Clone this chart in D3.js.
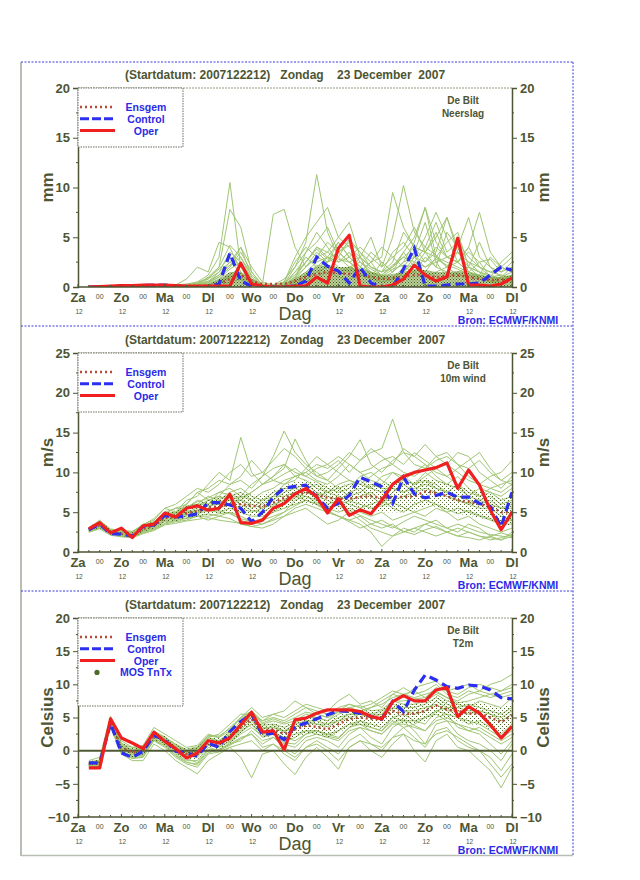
<!DOCTYPE html>
<html><head><meta charset="utf-8">
<script src="https://cdn.jsdelivr.net/npm/d3@7"></script>
<style>body{margin:0;background:#fff}svg{font-family:"Liberation Sans",Arial,sans-serif}</style>
</head><body>
<svg id="c" width="640" height="880"></svg>
<script>
// ---------- DATA ----------
const dayLabels = ["Za","Zo","Ma","Dl","Wo","Do","Vr","Za","Zo","Ma","Dl"];
const hourLabel = "12", midLabel = "00";
const titleText = "(Startdatum: 2007122212)   Zondag    23 December  2007";
const station = "De Bilt";
const source = "Bron: ECMWF/KNMI";
const stepHours = 6; // values below are steps 1..40 (6-hourly, +6h .. +240h)

// Neerslag (mm)
const precipOper = [0,0.05,0.1,0.15,0.15,0.2,0.2,0.2,0.15,0.1,0.1,0.1,0.1,0.1,2.4,0.3,0.1,0,0,0.1,0.1,1.0,0.4,3.9,5.2,0.1,0,0,0.2,0.8,2.2,1.2,0.6,1.0,4.9,0.2,0.2,0.1,0.3,0.9];
const precipControl = [0,0.05,0.05,0.1,0.1,0.15,0.2,0.2,0.1,0.05,0.05,0.05,0.3,3.4,0.6,0.1,0,0,0,0.1,0.6,3.0,2.1,1.6,0.4,2.0,0.4,0,0,1.8,3.9,0.1,0.1,0.2,0.3,0.3,0.4,1.2,2.0,1.7];
const precipMean = [0,0,0.05,0.05,0.05,0.1,0.1,0.1,0.1,0.1,0.1,0.15,0.3,0.8,1.2,0.6,0.3,0.3,0.3,0.6,1.0,1.3,1.5,1.4,1.3,1.2,1.0,0.8,0.9,1.0,1.2,1.2,1.0,1.1,1.2,1.0,0.8,0.7,0.7,0.8];
const precipBandLo = [0,0,0,0,0,0,0,0,0,0,0,0,0,0,0,0,0,0,0,0,0,0,0,0,0,0,0,0,0,0,0,0,0,0,0,0,0,0,0,0];
const precipBandHi = [0.05,0.05,0.1,0.1,0.1,0.1,0.1,0.1,0.1,0.1,0.1,0.3,0.8,1.5,1.5,0.8,0.2,0.1,0.2,0.8,1.5,2.0,2.2,2.0,2.0,1.8,1.5,1.2,1.3,1.5,1.8,1.7,1.5,1.5,1.6,1.4,1.2,1.0,1.0,1.2];
const precipMembers = [
 [0,0,0.1,0.1,0.1,0.1,0.1,0.1,0.1,0.2,0.5,1.2,3.0,10.5,2.0,0.3,0.1,0.1,0.2,1.0,2.5,4.0,3.0,2.0,1.5,3.0,1.0,0.5,0.8,2.0,3.5,6.5,2.5,1.0,1.5,2.0,1.0,0.5,1.0,2.0],
 [0,0,0,0.1,0.1,0.1,0.1,0.1,0.1,0.1,0.3,0.8,2.0,7.8,6.0,1.5,0.2,0.1,0.3,2.0,3.5,5.5,4.0,2.5,3.5,2.0,1.5,0.8,1.5,2.5,4.5,8.0,3.0,2.0,3.5,2.5,1.5,0.5,0.3,1.0],
 [0,0,0.1,0.1,0.1,0.1,0.2,0.1,0.2,0.8,2.0,1.5,4.5,4.0,1.5,0.5,0.1,0,0.1,0.8,3.5,4.5,6.0,3.5,2.5,1.5,2.5,1.0,0.5,1.5,3.0,5.0,7.5,5.0,2.5,4.0,2.0,1.0,0.5,0.8],
 [0,0,0,0,0.1,0.1,0.1,0.1,0.1,0.1,0.2,0.5,1.5,3.5,2.5,0.8,0.3,7.3,7.8,4.0,2.0,3.5,2.5,4.5,3.0,2.0,1.0,2.5,1.5,3.5,2.0,1.5,3.0,4.5,5.5,2.0,1.5,1.0,2.5,3.5],
 [0,0,0,0.1,0.1,0.1,0.1,0.1,0.2,0.3,0.5,0.8,1.5,2.5,4.0,1.0,0.2,0.2,0.8,2.0,4.5,11.3,5.5,3.0,2.0,1.5,2.5,4.0,3.0,2.0,1.5,3.0,2.0,1.5,1.0,2.0,1.5,1.2,0.8,0.5],
 [0,0,0,0,0.1,0.1,0.1,0.1,0.1,0.1,0.3,1.0,2.0,4.2,3.0,0.8,0.1,0.2,0.5,3.0,5.0,6.5,8.0,5.0,4.0,3.0,2.0,1.5,2.5,5.5,4.0,3.5,5.5,3.0,2.5,1.5,1.2,3.0,2.0,1.5],
 [0,0,0,0,0,0.1,0.1,0.1,0.1,0.1,0.2,0.5,1.0,2.0,3.5,1.5,0.2,0.1,0.3,1.5,2.5,4.0,3.5,5.0,6.5,3.0,5.0,2.0,3.0,4.0,6.0,3.5,2.0,5.5,4.0,1.5,2.5,1.0,0.8,1.2],
 [0,0,0,0,0,0,0.1,0.1,0.1,0.1,0.3,0.6,1.2,2.5,1.5,0.5,0.1,0.1,0.3,1.0,2.0,3.0,4.5,3.5,4.5,3.5,2.5,3.0,9.5,6.0,4.0,2.5,3.5,7.0,3.5,2.0,4.5,2.0,1.0,0.5],
 [0,0,0,0,0,0,0,0.1,0.1,0.1,0.2,0.3,0.8,1.8,2.5,0.8,0.2,0.1,0.2,0.8,1.5,2.5,3.0,2.5,3.0,4.0,3.0,2.0,5.0,10.2,5.5,4.0,6.5,3.5,4.5,3.0,2.0,1.5,2.0,1.5],
 [0,0,0,0,0,0.1,0.1,0.1,0.1,0.1,0.1,0.2,0.5,1.0,1.2,0.5,0.1,0,0.1,0.5,1.0,2.0,2.5,3.5,2.5,3.0,2.0,1.5,2.0,3.5,5.0,8.0,4.5,3.0,2.5,4.0,7.5,3.5,2.0,3.0],
 [0,0,0,0,0,0,0.1,0.1,0.1,0.1,0.1,0.2,0.4,0.8,1.0,0.3,0.1,0,0.1,0.3,0.8,1.5,2.0,1.5,2.0,2.5,1.5,1.2,2.0,3.0,4.0,3.5,5.0,7.0,4.0,7.0,3.0,2.0,1.5,2.5],
 [0,0,0,0,0,0,0,0,0,0,0.1,0.1,0.2,0.5,0.8,0.2,0,0,0,0.2,0.5,1.0,1.5,1.0,0.8,1.2,0.8,0.5,0.8,1.2,1.5,1.0,1.5,2.0,1.2,1.0,0.8,0.5,0.8,1.0],
 [0,0,0,0,0,0,0.1,0.1,0.1,0.1,0.2,0.4,1.0,2.0,4.0,2.0,0.5,0.2,0.3,1.5,3.0,2.0,3.0,4.5,3.0,2.0,3.5,2.5,1.5,2.5,3.0,2.0,2.5,3.0,2.5,3.5,2.5,2.8,1.5,2.0],
 [0,0,0,0,0,0,0,0,0.1,0.1,0.1,0.2,0.5,1.0,1.5,0.5,0.1,0.1,0.3,0.8,2.0,3.0,3.5,2.8,2.5,1.8,1.5,1.0,1.8,2.2,2.0,3.5,3.0,2.5,2.0,1.5,1.2,1.0,1.2,0.8],
 [0,0,0,0,0,0,0,0.1,0.1,0.2,0.4,0.9,1.8,3.0,2.2,0.6,0.1,0.1,0.4,1.2,2.5,3.8,2.8,3.5,4.2,2.5,1.8,1.2,2.2,3.0,2.5,4.0,3.2,2.0,2.5,1.5,1.0,0.8,1.0,1.5],
 [0,0,0,0,0,0,0,0,0,0.1,0.1,0.2,0.6,1.2,2.0,0.8,0.2,0.1,0.2,0.6,1.2,2.2,2.0,1.5,1.8,1.2,1.0,0.8,1.0,1.5,2.5,2.0,2.8,2.2,1.8,1.2,1.0,0.6,0.5,0.8],
 [0,0,0,0,0,0,0.1,0.1,0.1,0.2,0.3,0.5,1.2,2.2,3.0,1.2,0.3,0.2,0.5,2.5,4.0,3.0,2.5,3.0,4.8,3.5,2.0,1.5,3.5,4.5,3.0,2.5,4.0,3.0,3.5,2.5,2.0,1.5,1.2,1.0]
];

// 10m wind (m/s)
const windOper = [2.9,3.7,2.4,3.0,1.8,3.3,3.5,4.9,4.4,5.5,5.8,5.25,5.5,7.25,3.7,3.6,4.0,5.5,6.1,7.3,8.0,6.9,4.9,6.7,4.6,5.3,4.8,6.5,8.5,9.5,10.0,10.3,10.6,11.2,8.0,10.3,8.4,5.25,2.8,5.0];
const windControl = [2.8,3.5,2.3,2.25,2.0,3.2,3.4,4.6,4.4,4.5,4.8,6.2,6.2,5.9,5.5,3.8,5.0,6.9,8.0,8.25,8.4,6.9,5.5,6.1,7.1,9.4,8.8,8.2,6.1,9.4,7.3,6.8,7.1,7.5,6.9,6.9,6.1,5.7,3.2,7.5];
const windMean = [2.8,3.4,2.5,2.3,2.1,2.9,3.3,4.3,4.4,4.9,5.1,5.6,5.7,6.0,6.0,5.8,5.7,6.2,6.8,7.3,7.5,7.2,6.8,6.7,6.7,6.9,7.0,6.8,6.9,6.9,7.0,7.6,7.4,7.0,6.5,6.3,6.0,5.7,5.0,5.0];
const windBandLo = [2.5,3.0,2.2,2.0,1.8,2.5,2.9,3.7,3.8,4.2,4.3,4.7,4.8,5.0,4.8,4.6,4.5,5.0,5.5,6.0,6.2,5.8,5.4,5.2,5.1,5.2,5.3,5.0,5.0,5.0,5.2,5.8,5.7,5.3,4.8,4.6,4.3,4.0,3.4,3.3];
const windBandHi = [3.2,3.9,2.9,2.7,2.5,3.4,3.9,5.0,5.2,5.8,6.1,6.6,6.9,7.3,7.5,7.2,7.2,7.7,8.3,8.8,9.0,8.7,8.4,8.4,8.5,8.8,8.7,8.6,8.9,8.8,8.9,9.3,9.0,8.6,8.2,8.0,7.6,7.3,6.7,7.0];
const windMembers = [
 [3.0,4.0,2.8,2.5,2.5,3.5,4.0,5.5,5.0,6.5,7.0,8.5,10.0,9.0,14.4,10.0,8.5,9.5,11.0,9.5,10.0,9.0,8.5,9.5,11.0,10.0,9.0,8.5,10.0,9.5,8.5,9.0,8.0,7.5,8.5,7.0,6.5,7.0,6.0,6.5],
 [2.9,3.6,2.7,2.6,2.3,3.2,3.8,4.8,5.5,5.5,6.5,6.0,7.5,8.0,7.0,8.5,9.5,12.0,15.2,12.5,11.0,10.0,9.0,8.0,8.5,9.0,8.0,7.5,8.5,9.0,10.0,11.0,9.5,8.5,8.0,7.0,8.0,7.5,6.5,7.0],
 [2.7,3.3,2.4,2.2,2.0,2.8,3.5,4.5,4.2,5.0,5.5,6.5,6.0,7.0,6.5,7.5,8.5,9.5,10.5,14.2,11.5,9.5,9.0,10.5,12.0,14.1,11.0,10.0,11.5,12.5,11.0,10.5,12.0,11.0,10.0,9.0,8.5,9.5,10.0,11.5],
 [2.8,3.5,2.6,2.4,2.2,3.0,3.6,4.5,4.8,5.5,5.8,6.5,7.0,6.5,7.0,6.5,7.5,8.0,9.0,9.5,10.0,11.0,10.5,11.5,10.0,11.5,12.5,13.0,16.7,12.5,12.0,13.5,12.0,12.5,11.0,10.5,11.5,10.0,9.0,8.5],
 [2.6,3.0,2.2,2.0,1.8,2.4,2.8,3.5,3.8,4.0,4.5,4.8,4.5,5.0,4.5,3.8,3.5,4.0,4.5,5.5,6.0,5.5,5.0,4.5,4.0,3.5,2.5,0.7,2.0,3.0,2.5,3.5,4.0,3.0,2.5,3.5,3.0,2.0,1.5,2.5],
 [2.6,3.1,2.3,2.1,1.9,2.5,2.9,3.6,4.0,4.2,4.5,4.0,4.5,4.2,3.5,3.2,3.0,3.5,4.5,5.0,5.5,4.5,3.5,4.0,5.0,4.0,3.0,2.5,2.0,2.5,3.0,2.5,2.0,2.5,3.0,2.5,2.0,1.8,1.5,2.0],
 [2.9,3.7,2.8,2.6,2.5,3.3,3.8,5.0,5.5,6.0,7.5,6.5,7.0,8.5,9.0,8.0,9.5,10.5,11.0,10.0,9.5,10.5,11.0,12.0,11.0,10.0,10.5,11.5,12.0,11.0,12.5,11.5,10.5,11.0,12.5,12.0,10.0,9.0,8.0,9.5],
 [2.8,3.4,2.5,2.3,2.1,2.9,3.3,4.3,4.6,5.2,5.0,5.5,6.5,6.0,5.5,5.0,5.5,6.5,7.5,8.0,8.5,7.5,7.0,6.5,7.5,8.0,7.0,6.0,7.5,8.5,7.5,9.0,8.5,7.5,6.5,6.0,5.5,5.5,4.5,4.0],
 [2.7,3.2,2.4,2.2,2.0,2.7,3.1,4.0,4.1,4.5,4.8,5.2,5.0,5.5,5.0,4.5,4.5,5.0,5.5,6.0,6.5,6.0,5.5,5.0,5.5,5.0,4.5,5.0,4.0,4.5,5.0,4.5,5.5,5.0,4.0,4.5,3.5,3.0,2.5,3.0],
 [3.0,3.8,2.6,2.4,2.3,3.1,3.6,4.6,5.0,5.8,6.0,7.0,6.5,7.5,8.0,7.0,6.5,7.0,8.5,9.5,9.0,8.0,7.5,8.5,9.0,8.5,8.0,9.5,10.0,9.0,8.5,10.0,9.0,8.5,9.5,8.0,7.0,7.5,7.0,8.0],
 [2.5,3.0,2.3,2.0,1.9,2.6,3.0,3.8,3.9,4.3,4.5,4.5,4.8,5.0,4.0,3.5,4.0,4.5,5.0,6.5,7.0,6.5,6.0,6.5,6.0,5.5,6.0,6.5,5.5,5.0,6.0,6.5,6.0,5.0,5.5,5.0,4.5,4.0,3.5,3.5],
 [2.9,3.5,2.7,2.5,2.4,3.0,3.5,4.5,4.8,5.5,6.0,6.0,6.8,7.0,7.5,6.5,6.0,7.0,7.0,7.5,8.0,8.5,7.5,7.0,6.5,7.0,7.5,6.5,6.5,7.0,7.5,8.0,7.5,7.0,6.5,6.0,6.5,6.0,5.5,5.5],
 [2.7,3.4,2.5,2.2,2.0,2.8,3.3,4.2,4.5,4.7,5.0,5.5,5.5,6.0,6.5,6.0,5.5,6.0,6.5,7.0,6.5,6.0,5.0,4.5,4.0,4.5,3.5,3.0,3.5,2.5,3.0,3.5,3.0,2.5,2.0,2.5,2.0,1.5,1.8,2.2],
 [2.8,3.6,2.6,2.3,2.2,3.0,3.4,4.4,4.3,5.0,5.2,5.8,6.0,6.5,6.5,5.5,6.5,7.5,8.0,8.0,7.5,7.0,7.5,8.0,7.0,7.5,8.5,8.0,8.0,7.5,8.0,8.5,8.0,7.5,7.0,6.5,6.0,6.5,5.5,6.0],
 [2.8,3.5,2.4,2.2,2.1,3.0,3.5,4.8,5.0,6.0,7.5,8.0,9.0,8.5,9.5,11.5,10.0,9.0,8.5,9.0,10.5,12.0,11.0,10.0,9.0,8.5,9.5,10.5,11.0,13.0,12.0,11.0,10.0,9.5,10.5,11.5,12.5,10.5,9.0,10.0],
 [2.6,3.2,2.3,2.1,1.9,2.6,3.0,3.9,4.2,4.6,4.9,5.4,5.2,4.8,4.2,3.8,4.2,5.0,6.0,6.8,7.5,7.0,6.5,5.8,5.2,4.6,4.0,3.5,3.0,3.8,4.5,4.0,3.5,3.0,3.5,3.0,2.5,2.2,2.0,1.8],
 [3.1,3.9,2.9,2.7,2.6,3.4,4.2,5.5,6.0,7.0,8.0,7.5,8.5,10.0,11.0,9.5,10.0,11.5,13.0,12.0,10.5,9.5,10.0,11.0,12.5,11.5,13.0,12.0,11.0,10.0,9.5,10.5,11.5,12.0,11.0,9.5,8.5,8.0,7.5,8.5],
 [2.7,3.3,2.5,2.3,2.0,2.8,3.2,4.1,4.3,4.8,5.3,5.8,6.2,6.8,6.0,5.2,5.0,5.8,6.6,7.2,7.0,6.2,5.6,6.0,6.4,6.0,5.5,5.8,6.2,5.6,5.0,5.5,6.0,5.4,4.8,5.2,4.6,4.2,3.6,4.0],
 [2.9,3.6,2.6,2.4,2.2,3.1,3.7,4.7,4.9,5.6,6.3,6.8,7.5,7.2,6.8,7.5,8.5,9.0,9.8,10.5,9.5,8.8,8.0,7.5,8.0,9.5,10.0,9.0,8.0,7.5,8.5,9.5,10.5,9.5,8.5,7.5,7.0,8.0,8.5,9.0],
 [2.5,2.9,2.1,1.9,1.8,2.3,2.7,3.4,3.6,3.9,4.1,4.3,4.0,3.8,3.6,3.2,3.5,4.2,5.0,5.8,6.5,6.0,5.2,4.5,3.8,3.0,3.5,4.0,3.2,2.6,2.2,2.8,3.2,2.5,2.0,1.8,1.5,2.0,2.4,2.0]
];

// T2m (Celsius)
const tempOper = [-2.6,-2.6,4.8,1.9,1.15,0.3,2.8,1.4,0.3,-1.1,-0.35,1.5,1.15,1.9,3.9,5.8,2.8,3.0,0.15,4.65,4.9,5.65,6.15,6.15,6.15,5.9,5.15,4.8,7.4,8.3,7.5,7.5,9.15,9.5,5.15,6.65,5.65,3.9,1.9,3.65];
const tempControl = [-1.85,-1.85,4.15,-0.35,-1.0,-0.1,2.3,1.65,-0.1,-0.35,-0.85,1.15,0.5,2.9,4.4,5.5,2.4,2.65,1.65,3.65,4.15,4.8,5.4,6.0,5.9,5.65,5.15,4.8,7.4,5.9,9.15,11.4,10.65,9.65,9.4,9.9,9.75,9.15,8.0,7.8];
const tempMean = [-2.0,-1.8,4.0,0.5,-0.3,0.0,2.3,1.5,0.2,-0.5,-0.4,1.3,1.0,2.0,3.5,4.8,3.0,3.2,2.5,3.2,3.8,3.6,3.2,4.0,4.8,5.0,4.8,4.7,6.0,5.5,5.6,6.0,6.8,6.2,6.0,5.6,5.6,5.0,4.3,5.3];
const tempBandLo = [-2.4,-2.2,3.5,-0.2,-1.0,-0.7,1.6,0.8,-0.6,-1.3,-1.4,0.5,0.2,1.1,2.5,3.8,2.0,2.2,1.3,1.9,2.6,2.4,2.0,2.7,3.6,3.8,3.5,3.3,4.6,4.0,4.1,4.5,5.3,4.8,4.5,4.0,3.9,3.2,2.3,3.5];
const tempBandHi = [-1.6,-1.3,4.5,1.2,0.5,0.7,3.0,2.2,1.0,0.3,0.5,2.0,1.9,2.9,4.4,5.6,4.0,4.3,3.7,4.4,5.0,4.8,4.5,5.3,6.0,6.1,6.1,6.2,7.2,7.0,7.1,7.5,8.2,7.6,7.4,7.2,7.3,6.8,6.4,7.1];
const tempMembers = [
 [-1.5,-1.0,5.2,1.5,0.5,0.8,3.5,2.5,1.5,0.5,0.8,2.5,2.0,3.0,5.0,6.5,5.0,5.5,5.0,6.0,7.0,6.5,6.0,7.5,8.5,7.0,7.5,6.5,8.5,8.0,9.5,10.0,10.5,9.0,9.5,10.0,9.0,10.0,10.5,11.5],
 [-2.0,-1.5,4.5,0.8,0.0,0.3,2.8,2.0,1.0,0.0,0.3,2.0,2.5,4.0,5.5,5.5,4.5,5.5,6.0,7.5,6.5,5.5,5.0,6.0,6.5,6.0,6.5,7.5,8.5,9.5,8.5,9.0,10.0,8.5,8.0,9.0,8.5,8.0,8.5,9.0],
 [-2.5,-2.3,3.5,-0.5,-1.5,-1.5,1.0,0.0,-1.5,-2.5,-3.5,-1.5,-0.5,0.5,-1.0,-4.1,-0.5,0.0,-2.0,-3.6,-1.0,0.5,-1.0,-2.8,0.5,1.5,0.0,-1.0,1.0,2.5,0.0,-1.7,1.5,2.5,0.5,0.0,-1.5,-3.0,-5.6,-2.5],
 [-2.2,-2.0,3.8,0.0,-1.0,-0.5,1.8,1.0,-0.5,-1.5,-1.5,0.5,0.0,1.0,2.0,2.5,1.0,2.0,0.5,-0.5,1.5,2.0,1.5,0.5,2.5,3.5,2.0,1.0,3.5,4.5,3.0,1.0,4.0,4.5,2.5,1.5,1.0,0.0,-1.5,1.0],
 [-1.8,-1.5,4.2,1.0,0.5,0.5,3.0,2.0,0.8,0.0,0.5,2.0,1.5,2.5,4.5,6.0,4.0,4.5,4.0,4.5,5.5,5.0,4.5,6.0,7.0,6.5,5.5,5.5,7.5,7.0,7.0,7.5,8.5,7.5,7.0,6.5,7.5,7.0,6.5,8.0],
 [-2.1,-1.9,3.9,0.3,-0.6,-0.3,2.2,1.2,0.0,-0.8,-1.0,0.8,0.5,1.5,3.0,4.0,2.0,2.5,1.5,2.0,3.0,3.0,2.5,3.0,4.0,4.5,4.0,3.5,5.0,4.5,4.5,5.0,6.0,5.5,5.0,4.0,4.5,3.5,2.5,4.0],
 [-1.9,-1.7,4.1,0.6,-0.2,0.2,2.5,1.8,0.5,-0.3,0.0,1.8,1.5,2.8,4.0,5.5,3.5,3.5,3.0,4.0,4.5,4.0,4.0,5.0,5.5,5.5,5.5,6.0,7.0,6.5,6.5,7.0,8.0,7.0,6.5,7.0,6.5,6.0,5.5,6.5],
 [-2.3,-2.2,3.6,-0.3,-1.2,-1.0,1.5,0.5,-1.0,-2.0,-2.5,-0.5,-0.2,0.5,1.0,1.5,0.0,1.0,-0.5,-1.5,0.5,1.5,0.5,-0.5,1.5,2.5,1.0,0.0,2.0,3.5,2.0,0.5,3.0,3.5,1.5,0.5,0.0,-1.0,-3.0,-0.5],
 [-2.0,-1.8,4.0,0.5,-0.3,0.0,2.4,1.4,0.3,-0.4,-0.2,1.5,1.2,2.2,3.8,5.2,3.2,3.8,3.0,3.5,4.5,4.5,4.0,4.5,5.5,5.5,5.0,5.5,6.5,6.0,6.0,6.5,7.0,6.0,6.0,5.5,6.0,5.5,5.0,6.0],
 [-2.1,-1.9,4.3,0.2,-0.5,0.1,2.0,1.6,0.1,-0.6,-0.5,1.0,0.8,1.8,3.2,4.5,2.5,2.8,2.0,2.5,3.0,2.5,2.0,3.0,4.0,4.0,3.5,3.0,4.5,3.5,4.0,5.0,5.5,4.5,4.0,3.0,3.5,2.5,1.5,2.5],
 [-1.7,-1.4,4.4,0.9,0.2,0.5,2.7,1.7,0.7,0.0,0.2,1.6,1.4,2.4,4.0,5.0,3.8,4.0,3.5,4.2,5.0,5.0,4.5,5.5,6.0,6.0,6.5,7.0,8.0,8.5,9.0,8.0,9.5,9.0,8.5,9.5,10.0,9.5,9.0,10.0],
 [-2.4,-2.1,3.7,0.0,-0.8,-0.8,1.6,0.8,-0.8,-1.8,-2.0,0.0,0.2,1.0,1.5,3.0,1.5,2.0,1.0,0.5,2.0,2.5,2.0,1.5,3.0,3.5,3.0,2.5,4.0,4.0,3.5,3.0,5.0,5.5,3.5,3.0,2.5,1.0,-0.5,1.5],
 [-1.8,-1.6,4.6,1.2,0.0,0.4,2.6,1.9,0.6,-0.2,0.4,2.2,2.0,3.5,5.0,6.0,4.5,5.0,4.5,5.5,6.5,6.0,5.5,6.5,7.0,6.5,7.0,8.0,9.0,8.5,8.0,8.5,9.0,8.0,7.5,8.5,9.0,8.5,8.0,8.5],
 [-2.2,-2.0,3.8,0.1,-0.9,-0.6,1.9,1.1,-0.3,-1.2,-1.8,0.2,0.0,0.8,1.8,2.5,0.5,1.0,0.0,-1.0,0.5,1.0,0.0,-1.5,0.5,1.5,1.0,0.5,2.0,2.5,1.5,1.0,2.5,3.0,2.0,1.0,0.0,-2.0,-4.0,-2.0],
 [-2.0,-1.7,4.2,0.6,-0.2,0.2,2.5,1.7,0.4,-0.4,-0.3,1.4,1.1,2.1,3.6,5.0,3.3,3.5,2.8,3.6,4.2,4.0,3.6,4.5,5.0,5.5,5.0,5.0,6.5,6.0,5.5,6.0,7.5,6.5,6.5,6.0,6.0,5.5,4.5,5.5],
 [-2.3,-2.1,3.7,-0.1,-1.1,-0.9,1.6,0.7,-0.7,-1.7,-2.2,-0.3,0.1,1.2,2.5,3.5,2.2,2.5,2.0,1.5,2.5,3.0,2.5,2.0,3.5,4.5,3.5,3.0,5.0,5.5,4.5,4.0,6.0,6.5,5.0,4.5,4.0,3.0,2.0,3.0],
 [-1.9,-1.6,4.4,0.7,0.0,0.4,2.7,2.1,0.9,0.2,0.6,2.3,2.2,3.3,4.8,5.8,4.2,4.8,4.2,5.0,5.8,5.5,5.0,5.8,6.5,6.8,6.0,6.2,7.5,7.5,7.8,8.0,8.8,8.0,7.2,7.5,8.0,8.5,9.0,9.5],
 [-2.2,-1.9,3.9,0.4,-0.4,-0.2,2.1,1.3,0.0,-0.7,-0.8,1.0,0.6,1.4,2.8,4.0,2.5,2.5,1.2,1.0,2.5,3.0,2.2,1.8,3.5,4.0,3.0,2.5,4.2,4.8,3.8,3.0,4.5,5.0,4.0,3.5,3.0,2.0,1.0,2.0]
];

// y tick values per panel
const precipTicks = [0,5,10,15,20];
const windTicks = [0,5,10,15,20,25];
const tempTicks = [-10,-5,0,5,10,15,20];

// ---------- STYLE ----------
const ink = "#4d5533";
const ensColor = "#a0c674";
const svg = d3.select("#c");

const defs = svg.append("defs");
const pat = defs.append("pattern").attr("id","stipA").attr("width",3).attr("height",3).attr("patternUnits","userSpaceOnUse");
pat.append("rect").attr("width",3).attr("height",3).attr("fill","#8fb25a").attr("opacity",0.6);
pat.append("rect").attr("x",0).attr("y",0).attr("width",1).attr("height",1).attr("fill","#3f5a1c");
pat.append("rect").attr("x",1.5).attr("y",1.5).attr("width",1).attr("height",1).attr("fill","#4e6a26");
const pat2 = defs.append("pattern").attr("id","stipB").attr("width",4).attr("height",4).attr("patternUnits","userSpaceOnUse");
pat2.append("rect").attr("x",0).attr("y",0).attr("width",1).attr("height",1).attr("fill","#4a6424");
pat2.append("rect").attr("x",2).attr("y",2).attr("width",1).attr("height",1).attr("fill","#5a7530");

// frame
svg.append("line").attr("x1",21).attr("x2",21).attr("y1",62).attr("y2",856).attr("stroke","#b7bfb4").attr("stroke-width",2);
[62,326,591].forEach(y=>svg.append("line").attr("x1",21).attr("x2",573).attr("y1",y).attr("y2",y)
  .attr("stroke","#3a3ae0").attr("stroke-width",1).attr("stroke-dasharray","2,1.5"));
svg.append("line").attr("x1",573).attr("x2",573).attr("y1",62).attr("y2",856).attr("stroke","#3a3ae0").attr("stroke-dasharray","2,1.5");
svg.append("line").attr("x1",21).attr("x2",573).attr("y1",855.5).attr("y2",855.5).attr("stroke","#b7bfb4").attr("stroke-width",1.5);

const x = d3.scaleLinear().domain([0,240]).range([78,512]);

const panels = [
  {oy:0, domain:[0,20], ticks:precipTicks, ylab:"mm", param:"Neerslag", oper:precipOper, control:precipControl, mean:precipMean, lo:precipBandLo, hi:precipBandHi, members:precipMembers, mos:false, zero:false, stip:"stipA"},
  {oy:265, domain:[0,25], ticks:windTicks, ylab:"m/s", param:"10m wind", oper:windOper, control:windControl, mean:windMean, lo:windBandLo, hi:windBandHi, members:windMembers, mos:false, zero:false, stip:"stipB"},
  {oy:530, domain:[-10,20], ticks:tempTicks, ylab:"Celsius", param:"T2m", oper:tempOper, control:tempControl, mean:tempMean, lo:tempBandLo, hi:tempBandHi, members:tempMembers, mos:true, zero:true, stip:"stipB"}
];

panels.forEach(p=>{
  const g = svg.append("g");
  const top = 88 + p.oy, bot = 287 + p.oy;
  const y = d3.scaleLinear().domain(p.domain).range([bot, top]);
  const step = p.ticks[1]-p.ticks[0];
  const hx = i => x((i+1)*stepHours);
  const line = d3.line().x((d,i)=>hx(i)).y(d=>y(d));

  g.append("text").attr("x",285).attr("y",79+p.oy).attr("text-anchor","middle").attr("font-weight","bold")
    .attr("font-size",12).attr("fill",ink).attr("xml:space","preserve").text(titleText);

  const cid = "clip"+p.oy;
  defs.append("clipPath").attr("id",cid).append("rect").attr("x",78).attr("y",top).attr("width",434).attr("height",bot-top);
  const pg = g.append("g").attr("clip-path",`url(#${cid})`);

  p.members.forEach(m=>pg.append("path").attr("d",line(m)).attr("fill","none").attr("stroke",ensColor).attr("stroke-width",1));
  const area = d3.area().x((d,i)=>hx(i)).y0((d,i)=>y(p.lo[i])).y1(d=>y(d));
  pg.append("path").attr("d",area(p.hi)).attr("fill",`url(#${p.stip})`);

  if(p.zero) pg.append("line").attr("x1",78).attr("x2",512).attr("y1",y(0)).attr("y2",y(0)).attr("stroke","#4f5a35").attr("stroke-width",2);

  pg.append("path").attr("d",line(p.mean)).attr("fill","none").attr("stroke","#b84a38").attr("stroke-width",2.5).attr("stroke-dasharray","2,3");
  pg.append("path").attr("d",line(p.control)).attr("fill","none").attr("stroke","#2d2ff0").attr("stroke-width",3.2).attr("stroke-dasharray","9,5");
  pg.append("path").attr("d",line(p.oper)).attr("fill","none").attr("stroke","#f02020").attr("stroke-width",3.2).attr("stroke-linejoin","round");

  g.append("line").attr("x1",78).attr("x2",512).attr("y1",top).attr("y2",top).attr("stroke","#8f9a80").attr("stroke-dasharray","2,1");
  const yl = d3.axisLeft(y).tickValues(p.ticks).tickSize(5).tickFormat(d3.format("d"));
  const yr = d3.axisRight(y).tickValues(p.ticks).tickSize(5).tickFormat(d3.format("d"));
  [[yl,78],[yr,512]].forEach(([ax,xx])=>{
    const a = g.append("g").attr("transform",`translate(${xx},0)`).call(ax);
    a.select(".domain").attr("stroke",ink).attr("stroke-width",1.5);
    a.selectAll(".tick line").attr("stroke",ink);
    a.selectAll("text").attr("fill",ink).attr("font-size",13).attr("font-weight","bold").attr("font-family","Liberation Sans, Arial");
    const minor = d3.range(p.domain[0]+step/2, p.domain[1], step);
    const dir = xx===78 ? -1 : 1;
    minor.forEach(v=>a.append("line").attr("x1",0).attr("x2",dir*2).attr("y1",y(v)).attr("y2",y(v)).attr("stroke",ink));
  });
  g.append("line").attr("x1",78).attr("x2",512).attr("y1",bot).attr("y2",bot).attr("stroke",ink).attr("stroke-width",1.5);
  d3.range(0,241,stepHours).forEach(h=>g.append("line").attr("x1",x(h)).attr("x2",x(h)).attr("y1",bot).attr("y2",bot-(h%24===0?3:2)).attr("stroke",ink));

  dayLabels.forEach((d,k)=>{
    g.append("text").attr("x",x(k*24)).attr("y",bot+15).attr("text-anchor","middle").attr("font-weight","bold")
      .attr("font-size",13).attr("fill",ink).text(d);
    if(k!==5) g.append("text").attr("x",x(k*24)+1).attr("y",bot+27).attr("text-anchor","middle")
      .attr("font-size",6.5).attr("fill",ink).text(hourLabel);
    if(k<dayLabels.length-1) g.append("text").attr("x",x(k*24+12)).attr("y",bot+12).attr("text-anchor","middle")
      .attr("font-size",7).attr("fill",ink).text(midLabel);
  });
  g.append("text").attr("x",295).attr("y",bot+33).attr("text-anchor","middle").attr("font-size",18)
    .attr("fill",ink).text("Dag");
  g.append("text").attr("x",508).attr("y",bot+37).attr("text-anchor","middle").attr("font-size",10.5)
    .attr("font-weight","bold").attr("fill","#2a2ae8").text(source);

  [47,543].forEach(xx=>g.append("text").attr("transform",`translate(${xx},${(top+bot)/2}) rotate(-90)`)
    .attr("text-anchor","middle").attr("dy","0.35em").attr("font-size",17).attr("font-weight","bold").attr("fill",ink).text(p.ylab));

  g.append("text").attr("x",463).attr("y",104+p.oy).attr("text-anchor","middle").attr("font-size",10).attr("font-weight","bold").attr("fill",ink).text(station);
  g.append("text").attr("x",463).attr("y",117+p.oy).attr("text-anchor","middle").attr("font-size",10).attr("font-weight","bold").attr("fill",ink).text(p.param);

  const entries = [{name:"Ensgem", type:"mean"},{name:"Control", type:"control"},{name:"Oper", type:"oper"}];
  if(p.mos) entries.push({name:"MOS TnTx", type:"mos"});
  const lh = p.mos ? 88 : 59;
  const lg = g.append("g");
  lg.append("rect").attr("x",78).attr("y",top).attr("width",105).attr("height",lh).attr("fill","#fff")
    .attr("stroke","#6b7060").attr("stroke-dasharray","1.5,1");
  entries.forEach((e,k)=>{
    const yy = top + 19 + k*11.8;
    if(e.type==="mean") lg.append("line").attr("x1",80).attr("x2",115).attr("y1",yy).attr("y2",yy).attr("stroke","#b84a38").attr("stroke-width",2.5).attr("stroke-dasharray","2,3");
    if(e.type==="control") lg.append("line").attr("x1",80).attr("x2",115).attr("y1",yy).attr("y2",yy).attr("stroke","#2d2ff0").attr("stroke-width",3).attr("stroke-dasharray","9,3");
    if(e.type==="oper") lg.append("line").attr("x1",80).attr("x2",115).attr("y1",yy).attr("y2",yy).attr("stroke","#f02020").attr("stroke-width",3);
    if(e.type==="mos") lg.append("circle").attr("cx",97).attr("cy",yy).attr("r",2.6).attr("fill","#4d6a2a");
    lg.append("text").attr("x",146).attr("y",yy+4).attr("text-anchor","middle").attr("font-size",10.5).attr("font-weight","bold")
      .attr("fill","#2a2ae8").text(e.name);
  });
});
</script>
</body></html>
